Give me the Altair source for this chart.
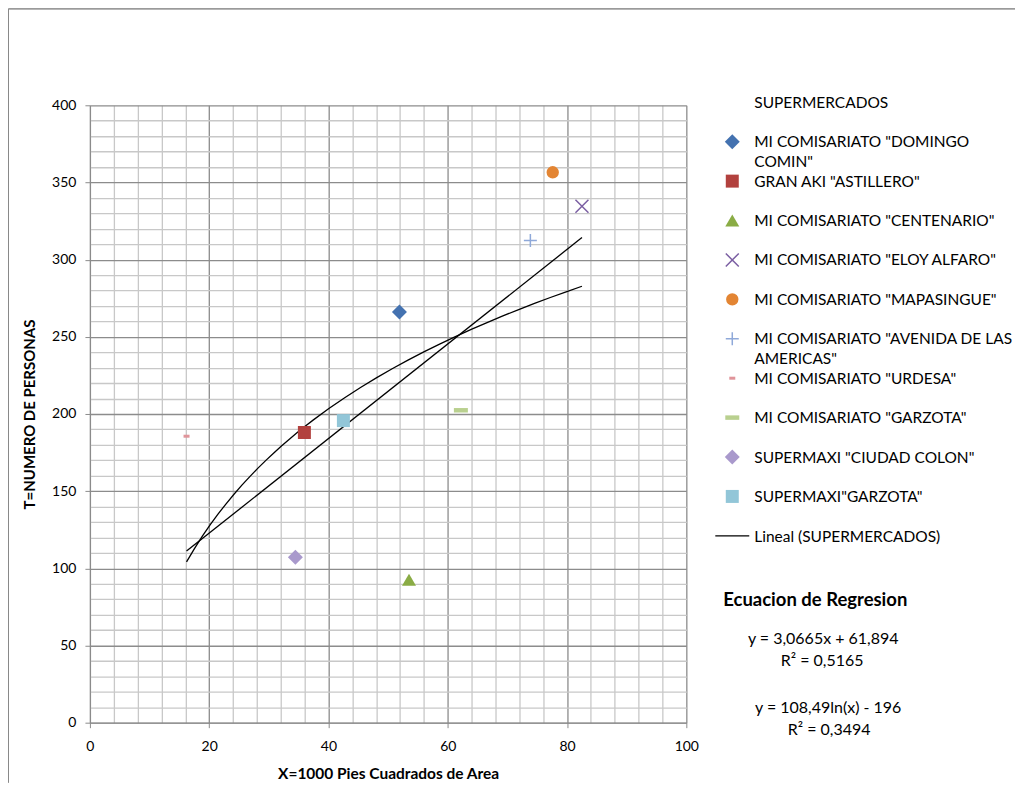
import altair as alt
import pandas as pd

FONT = "Lato"

# ---------------- data ----------------
STORES = [
    'MI COMISARIATO "DOMINGO COMIN"',
    'GRAN AKI "ASTILLERO"',
    'MI COMISARIATO "CENTENARIO"',
    'MI COMISARIATO "ELOY ALFARO"',
    'MI COMISARIATO "MAPASINGUE"',
    'MI COMISARIATO "AVENIDA DE LAS AMERICAS"',
    'MI COMISARIATO "URDESA"',
    'MI COMISARIATO "GARZOTA"',
    'SUPERMAXI "CIUDAD COLON"',
    'SUPERMAXI"GARZOTA"',
]
LEGEND_LABELS = [
    'MI COMISARIATO "DOMINGO\nCOMIN"',
    'GRAN AKI "ASTILLERO"',
    'MI COMISARIATO "CENTENARIO"',
    'MI COMISARIATO "ELOY ALFARO"',
    'MI COMISARIATO "MAPASINGUE"',
    'MI COMISARIATO "AVENIDA DE LAS\nAMERICAS"',
    'MI COMISARIATO "URDESA"',
    'MI COMISARIATO "GARZOTA"',
    'SUPERMAXI "CIUDAD COLON"',
    'SUPERMAXI"GARZOTA"',
]
AREA_X = [51.9, 35.96, 53.5, 82.5, 77.6, 73.85, 16.2, 62.2, 34.45, 42.5]
PERSONS_T = [266.0, 188.0, 92.6, 334.6, 356.6, 312.4, 185.6, 202.4, 107.2, 195.7]

COLORS = ["#4472B0", "#B2413E", "#8AAC45", "#7B5FA3", "#E38533",
          "#8FA9D9", "#E0949A", "#B9D08F", "#A999CC", "#92C6D8"]
SHAPES = ["diamond", "square", "triangle-up", "M-1,-1L1,1M1,-1L-1,1", "circle",
          "M-1,0L1,0M0,-1L0,1", "M-1,-0.5L1,-0.5L1,0.5L-1,0.5Z", "M-1,-0.32L1,-0.32L1,0.32L-1,0.32Z",
          "diamond", "square"]
SIZES = [225, 169, 196, 169, 154, 169, 36, 196, 225, 169]
STROKED = ['MI COMISARIATO "ELOY ALFARO"', 'MI COMISARIATO "AVENIDA DE LAS AMERICAS"']

X_TICKS = [0, 4, 8, 12, 16, 20, 24, 28, 32, 36, 40, 44, 48, 52, 56, 60, 64, 68, 72, 76, 80, 84, 88, 92, 96, 100]
Y_TICKS = [0, 10, 20, 30, 40, 50, 60, 70, 80, 90, 100, 110, 120, 130, 140, 150, 160, 170, 180, 190, 200,
           210, 220, 230, 240, 250, 260, 270, 280, 290, 300, 310, 320, 330, 340, 350, 360, 370, 380, 390, 400]

LEGEND_TITLE = "SUPERMERCADOS"
TREND_LABEL = "Lineal (SUPERMERCADOS)"
EQ_TITLE = "Ecuacion de Regresion"
EQ_LINEAR = "y = 3,0665x + 61,894"
EQ_LINEAR_R2 = "R² = 0,5165"
EQ_LOG = "y = 108,49ln(x) - 196"
EQ_LOG_R2 = "R² = 0,3494"

df = pd.DataFrame({"store": STORES, "X": AREA_X, "T": PERSONS_T})
leg_df = pd.DataFrame({"store": STORES, "label": LEGEND_LABELS, "row": list(range(1, 11))})
leg_extra = pd.DataFrame({"label": [LEGEND_TITLE, TREND_LABEL], "row": [0, 11]})

W, H = 597, 618
MAJOR = "#8C8C8C"
MINOR = "#C8C8C8"

x_enc = alt.X(
    "X:Q",
    scale=alt.Scale(domain=[0, 100], nice=False),
    axis=alt.Axis(
        values=X_TICKS,
        labelExpr="datum.value % 20 === 0 ? datum.label : ''",
        labelFlush=False,
        grid=True,
        gridColor={"condition": {"test": "datum.value % 20 === 0", "value": MAJOR}, "value": MINOR},
        gridWidth=1.3,
        tickOpacity={"condition": {"test": "datum.value % 20 === 0", "value": 1}, "value": 0},
        tickSize=5, tickColor=MAJOR, domainColor=MAJOR,
        labelFont=FONT, labelFontSize=14, labelColor="black", labelPadding=12,
        title="X=1000 Pies Cuadrados de Area", titleFont=FONT, titleFontSize=15.5,
        titleFontWeight="bold", titleColor="black", titlePadding=13,
    ),
)
y_enc = alt.Y(
    "T:Q",
    scale=alt.Scale(domain=[0, 400], nice=False),
    axis=alt.Axis(
        values=Y_TICKS,
        labelExpr="datum.value % 50 === 0 ? datum.label : ''",
        labelFlush=False,
        grid=True,
        gridColor={"condition": {"test": "datum.value % 50 === 0", "value": MAJOR}, "value": MINOR},
        gridWidth=1.3,
        tickOpacity={"condition": {"test": "datum.value % 50 === 0", "value": 1}, "value": 0},
        tickSize=5, tickColor=MAJOR, domainColor=MAJOR,
        labelFont=FONT, labelFontSize=14, labelColor="black", labelPadding=9,
        title="T=NUMERO  DE PERSONAS", titleFont=FONT, titleFontSize=15,
        titleFontWeight="bold", titleColor="black", titlePadding=14,
    ),
)

color_enc = alt.Color("store:N", scale=alt.Scale(domain=STORES, range=COLORS), legend=None)
shape_enc = alt.Shape("store:N", scale=alt.Scale(domain=STORES, range=SHAPES), legend=None)
size_enc = alt.Size("store:N", scale=alt.Scale(type="ordinal", domain=STORES, range=SIZES), legend=None)

base = alt.Chart(df)
is_stroked = alt.FieldOneOfPredicate(field="store", oneOf=STROKED)

filled_pts = base.transform_filter(~is_stroked).mark_point(filled=True, opacity=1).encode(
    x=x_enc, y=y_enc, color=color_enc, shape=shape_enc, size=size_enc)
stroked_pts = base.transform_filter(is_stroked).mark_point(filled=False, opacity=1, strokeWidth=1.5).encode(
    x=x_enc, y=y_enc, color=color_enc, shape=shape_enc, size=size_enc)

lin = base.transform_regression("X", "T", method="linear").mark_line(
    color="black", strokeWidth=1.3).encode(x=x_enc, y=y_enc)
logr = base.transform_regression("X", "T", method="log").mark_line(
    color="black", strokeWidth=1.3).encode(x=x_enc, y=y_enc)

# chart-area frame (top and left edges)
frame_top = alt.Chart(leg_extra).mark_rule(color="#8A8A8A", strokeWidth=1).encode(
    x=alt.value(-81.5), x2=alt.value(926), y=alt.value(-96.5))
frame_left = alt.Chart(leg_extra).mark_rule(color="#8A8A8A", strokeWidth=1).encode(
    x=alt.value(-81.5), y=alt.value(-96.5), y2=alt.value(678))

main = alt.layer(frame_top, frame_left, lin, logr, filled_pts, stroked_pts)

# ---------------- legend panel ----------------
leg_y = alt.Y("row:Q", scale=alt.Scale(domain=[0.076, 15.74], reverse=True, nice=False, zero=False), axis=None)
SYM_X, TXT_X = 643, 665
LEG_FS = 15.5

leg_base = alt.Chart(leg_df)
leg_filled = leg_base.transform_filter(~is_stroked).mark_point(filled=True, opacity=1).encode(
    x=alt.value(SYM_X), y=leg_y, color=color_enc, shape=shape_enc, size=size_enc)
leg_stroked = leg_base.transform_filter(is_stroked).mark_point(filled=False, opacity=1, strokeWidth=1.5).encode(
    x=alt.value(SYM_X), y=leg_y, color=color_enc, shape=shape_enc, size=size_enc)
leg_text = leg_base.mark_text(align="left", baseline="alphabetic", dy=5.5, lineBreak="\n", lineHeight=20,
                              font=FONT, fontSize=LEG_FS, color="black").encode(
    x=alt.value(TXT_X), y=leg_y, text="label:N")
extra_text = alt.Chart(leg_extra).mark_text(align="left", baseline="middle", font=FONT, fontSize=LEG_FS,
                                            color="black", dy=1).encode(
    x=alt.value(TXT_X), y=leg_y, text="label:N")
trend_sym = alt.Chart(leg_extra).transform_filter(alt.datum.row == 11).mark_rule(
    color="black", strokeWidth=1.3).encode(x=alt.value(626), x2=alt.value(660), y=leg_y)

def eq_text(txt, x, y, size=16, weight="normal", align="center"):
    return alt.Chart(pd.DataFrame({"t": [txt]})).mark_text(
        align=align, baseline="middle", font=FONT, fontSize=size, fontWeight=weight, color="black"
    ).encode(x=alt.value(x), y=alt.value(y), text="t:N")

eqs = [
    eq_text(EQ_TITLE, 634, 495, size=18.5, weight="bold", align="left"),
    eq_text(EQ_LINEAR, 734, 534),
    eq_text(EQ_LINEAR_R2, 733, 556),
    eq_text(EQ_LOG, 739, 603),
    eq_text(EQ_LOG_R2, 740, 625),
]

legend = alt.layer(leg_filled, leg_stroked, leg_text, extra_text, trend_sym, *eqs)

chart = alt.layer(main, legend).resolve_scale(y="independent").properties(
    width=W, height=H, padding=0, background="white"
).configure_view(stroke=None)

chart.save("out.html", embed_options={"renderer": "svg", "actions": False})
